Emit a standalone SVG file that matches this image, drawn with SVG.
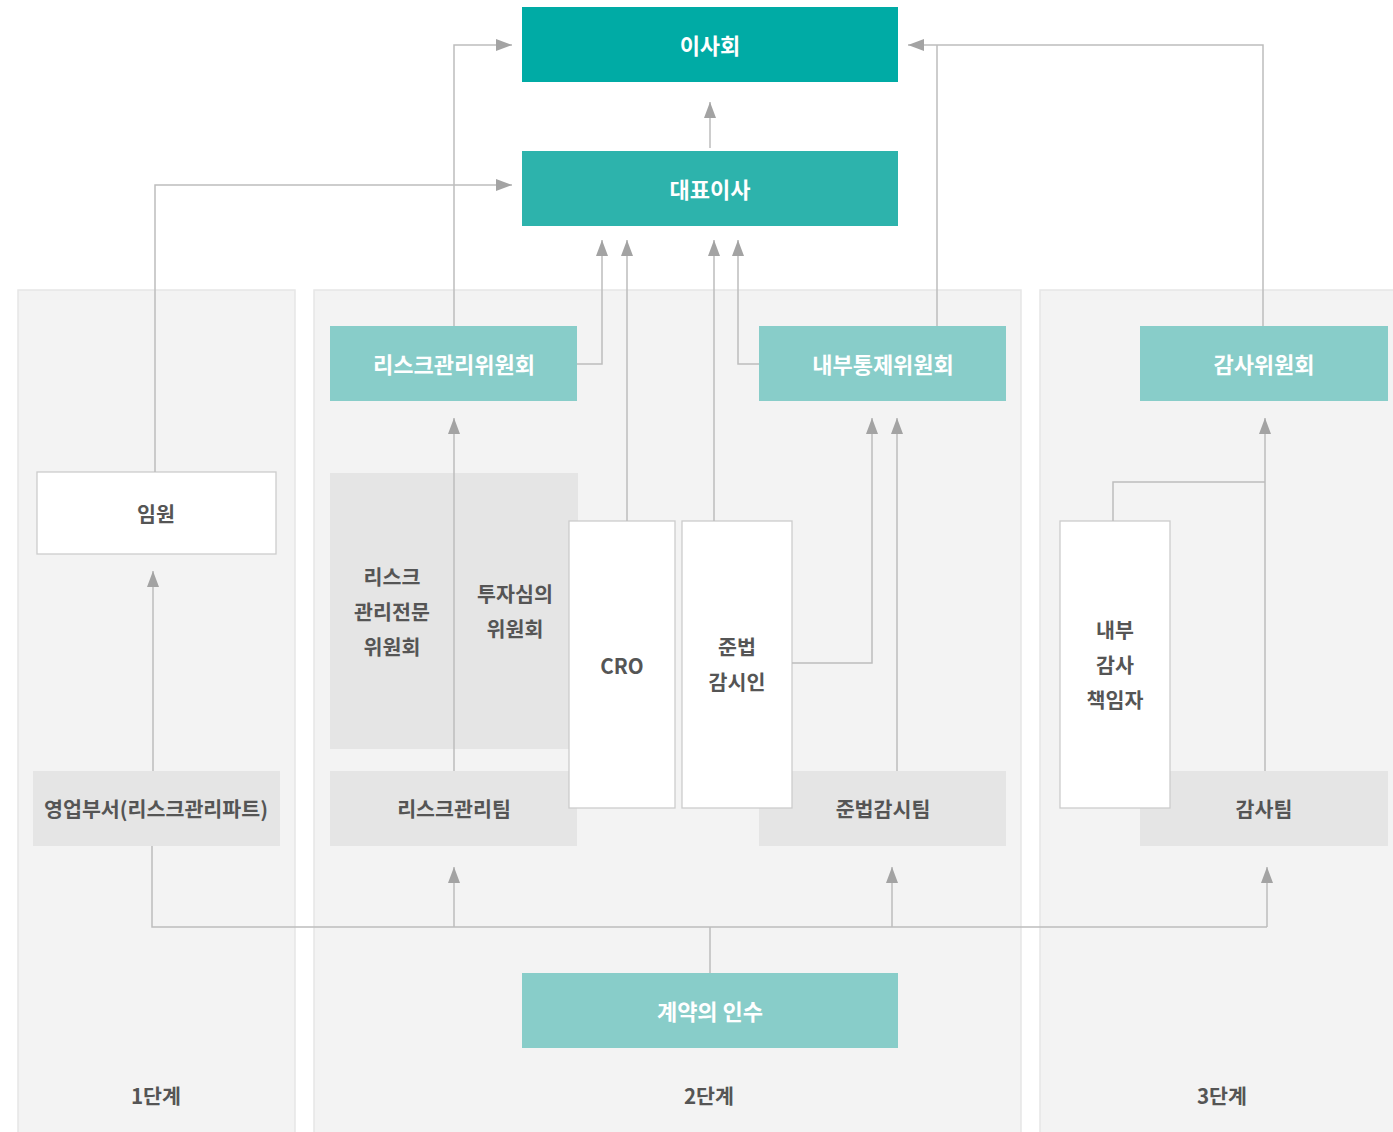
<svg xmlns="http://www.w3.org/2000/svg" width="1393" height="1132" viewBox="0 0 1393 1132">
<style>
.panel{fill:#f3f3f3;stroke:#e6e6e6;stroke-width:1.5}
.t{font-family:"Noto Sans CJK KR","Noto Sans",sans-serif;font-size:20.6px;font-weight:700;text-anchor:middle;dominant-baseline:central}
.w{fill:#ffffff;font-size:22px}
.g{fill:#555555}
.dark{fill:#00aba5}
.mid{fill:#2db3ac}
.light{fill:#88cdc9}
.gray{fill:#e5e5e5}
.white{fill:#ffffff;stroke:#cccccc;stroke-width:1.3}
.c{fill:none;stroke:#bdbdbd;stroke-width:1.5}
.a{marker-end:url(#arr)}
</style>
<defs>
<marker id="arr" viewBox="0 0 16 12" refX="16" refY="6" markerWidth="16" markerHeight="12" orient="auto" markerUnits="userSpaceOnUse">
<path d="M0,0 L16,6 L0,12 z" fill="#a3a3a3"/>
</marker>
</defs>
<rect width="1393" height="1132" fill="#ffffff"/>
<g id="panels">
<rect class="panel" x="18" y="290" width="277" height="850"/>
<rect class="panel" x="314" y="290" width="707" height="850"/>
<rect class="panel" x="1040" y="290" width="360" height="850"/>
<text class="t g" x="156" y="1095">1단계</text>
<text class="t g" x="709" y="1095">2단계</text>
<text class="t g" x="1222" y="1095">3단계</text>
</g>
<g id="board"><rect class="dark" x="522" y="7" width="376" height="75"/><text class="t w" x="710" y="44">이사회</text></g>
<g id="ceo"><rect class="mid" x="522" y="151" width="376" height="75"/><text class="t w" x="710" y="188">대표이사</text></g>
<g id="risk-committee"><rect class="light" x="330" y="326" width="247" height="75"/><text class="t w" x="454" y="363">리스크관리위원회</text></g>
<g id="internal-control-committee"><rect class="light" x="759" y="326" width="247" height="75"/><text class="t w" x="883" y="363">내부통제위원회</text></g>
<g id="audit-committee"><rect class="light" x="1140" y="326" width="248" height="75"/><text class="t w" x="1264" y="363">감사위원회</text></g>
<g id="executive"><rect class="white" x="37" y="472" width="239" height="82"/><text class="t g" x="156" y="513">임원</text></g>
<g id="sub-committees"><rect class="gray" x="330" y="473" width="248" height="276"/>
<text class="t g" x="392" y="576">리스크</text><text class="t g" x="392" y="611">관리전문</text><text class="t g" x="392" y="646">위원회</text>
<text class="t g" x="515" y="593">투자심의</text><text class="t g" x="515" y="628">위원회</text></g>
<g id="sales"><rect class="gray" x="33" y="771" width="247" height="75"/><text class="t g" x="156" y="808">영업부서(리스크관리파트)</text></g>
<g id="risk-team"><rect class="gray" x="330" y="771" width="247" height="75"/><text class="t g" x="454" y="808">리스크관리팀</text></g>
<g id="compliance-team"><rect class="gray" x="759" y="771" width="247" height="75"/><text class="t g" x="883" y="808">준법감시팀</text></g>
<g id="audit-team"><rect class="gray" x="1140" y="771" width="248" height="75"/><text class="t g" x="1264" y="808">감사팀</text></g>
<g id="cro"><rect class="white" x="569" y="521" width="106" height="287"/><text class="t g" x="622" y="665">CRO</text></g>
<g id="compliance-officer"><rect class="white" x="682" y="521" width="110" height="287"/><text class="t g" x="737" y="646">준법</text><text class="t g" x="737" y="681">감시인</text></g>
<g id="internal-auditor"><rect class="white" x="1060" y="521" width="110" height="287"/><text class="t g" x="1115" y="629">내부</text><text class="t g" x="1115" y="664">감사</text><text class="t g" x="1115" y="699">책임자</text></g>
<g id="contract"><rect class="light" x="522" y="973" width="376" height="75"/><text class="t w" x="710" y="1010">계약의 인수</text></g>
<g id="connectors">
<path class="c a" d="M454,326 V45 H512"/>
<path class="c a" d="M155,472 V185 H512"/>
<path class="c a" d="M710,148 V102"/>
<path class="c a" d="M1263,326 V45 H908"/>
<path class="c" d="M937,326 V45"/>
<path class="c a" d="M577,364 H602 V240"/>
<path class="c a" d="M627,521 V240"/>
<path class="c a" d="M714,521 V240"/>
<path class="c a" d="M759,364 H738 V240"/>
<path class="c a" d="M792,663 H872 V418"/>
<path class="c a" d="M897,771 V418"/>
<path class="c a" d="M454,771 V418"/>
<path class="c a" d="M1265,771 V418"/>
<path class="c" d="M1113,521 V482 H1265"/>
<path class="c a" d="M153,771 V571"/>
<path class="c" d="M152,846 V927 H1267"/>
<path class="c a" d="M454,927 V867"/>
<path class="c a" d="M892,927 V867"/>
<path class="c a" d="M1267,927 V867"/>
<path class="c" d="M710,973 V927"/>
</g>
</svg>
